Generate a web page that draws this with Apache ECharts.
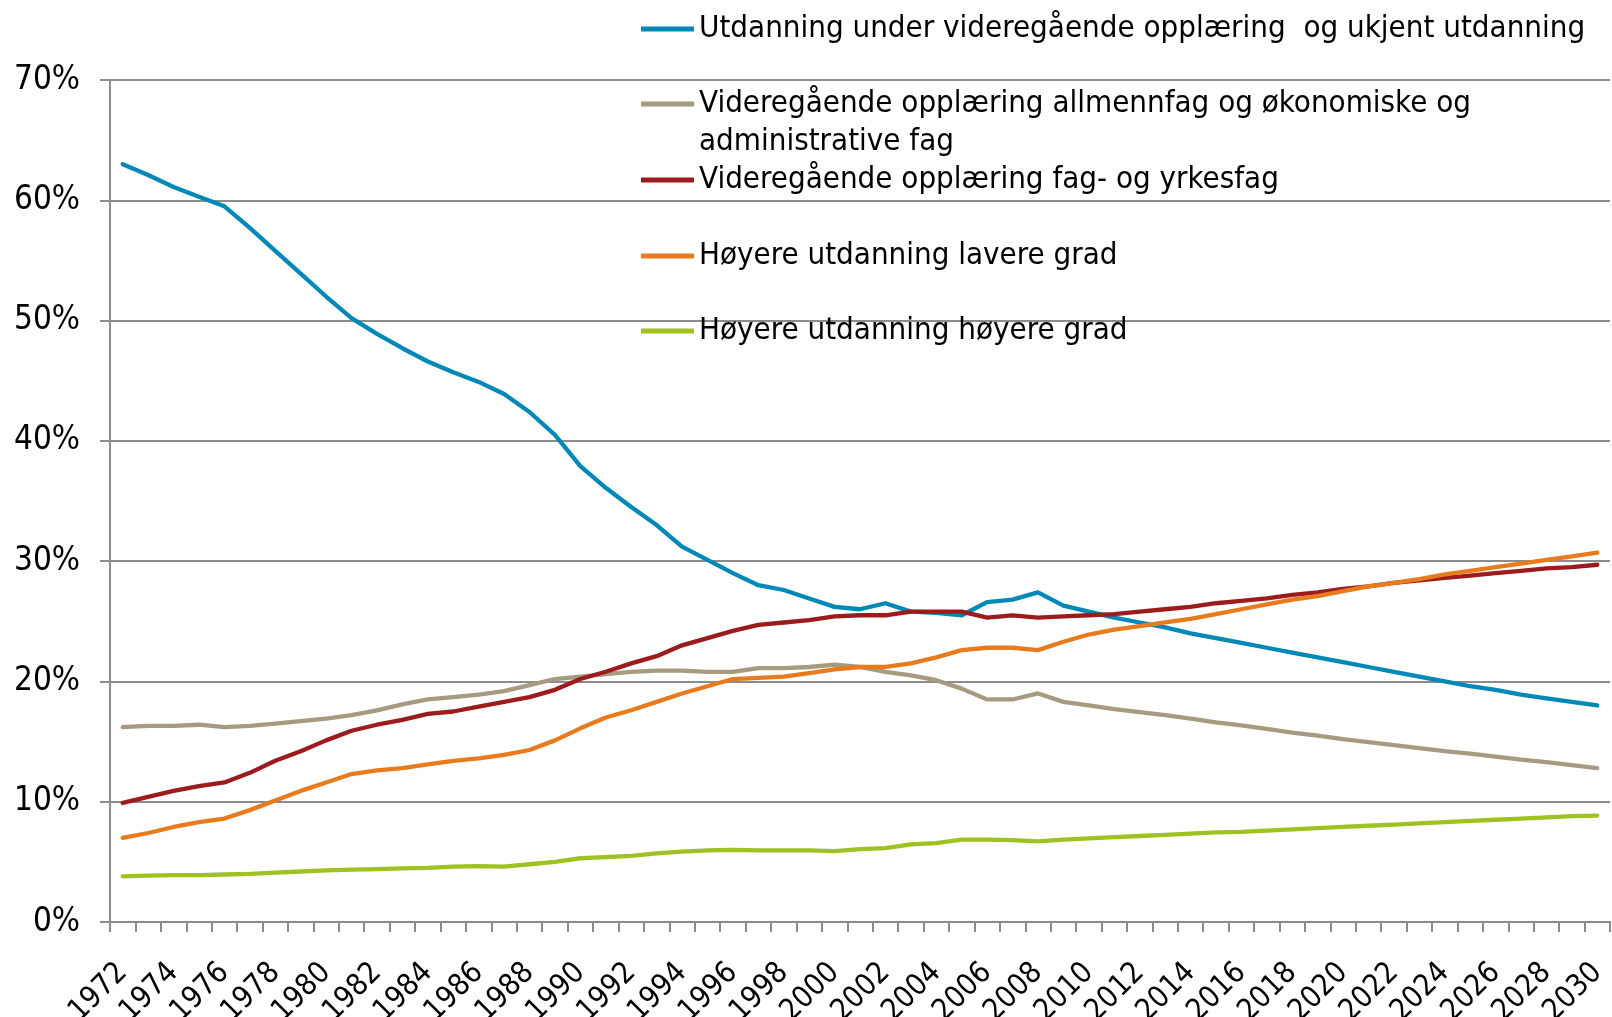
<!DOCTYPE html>
<html>
<head>
<meta charset="utf-8">
<script src="https://cdn.jsdelivr.net/npm/echarts@6/dist/echarts.min.js"></script>
<style>
  html, body { margin: 0; padding: 0; background: #fff; }
  #chart { width: 1612px; height: 1017px; }
</style>
</head>
<body>
<div id="chart"></div>
<script>
// kategorier (år)
const years = [
  '1972','1973','1974','1975','1976','1977','1978','1979','1980','1981',
  '1982','1983','1984','1985','1986','1987','1988','1989','1990','1991',
  '1992','1993','1994','1995','1996','1997','1998','1999','2000','2001',
  '2002','2003','2004','2005','2006','2007','2008','2009','2010','2011',
  '2012','2013','2014','2015','2016','2017','2018','2019','2020','2021',
  '2022','2023','2024','2025','2026','2027','2028','2029','2030'
];

const seriesNames = [
  'Utdanning under videregående opplæring  og ukjent utdanning',
  'Videregående opplæring allmennfag og økonomiske og administrative fag',
  'Videregående opplæring fag- og yrkesfag',
  'Høyere utdanning lavere grad',
  'Høyere utdanning høyere grad'
];
// slik teksten brytes i legenden
const legendLines = [
  ['Utdanning under videregående opplæring  og ukjent utdanning'],
  ['Videregående opplæring allmennfag og økonomiske og', 'administrative fag'],
  ['Videregående opplæring fag- og yrkesfag'],
  ['Høyere utdanning lavere grad'],
  ['Høyere utdanning høyere grad']
];

// andeler i prosent
const underVgs = [
  63.0, 62.1, 61.1, 60.3, 59.5, 57.7, 55.8, 53.9, 52.0, 50.2,
  48.9, 47.7, 46.6, 45.7, 44.9, 43.9, 42.4, 40.5, 37.9, 36.1,
  34.5, 33.0, 31.2, 30.1, 29.0, 28.0, 27.6, 26.9, 26.2, 26.0,
  26.5, 25.8, 25.7, 25.5, 26.6, 26.8, 27.4, 26.3, 25.8, 25.3,
  24.9, 24.5, 24.0, 23.6, 23.2, 22.8, 22.4, 22.0, 21.6, 21.2,
  20.8, 20.4, 20.0, 19.6, 19.3, 18.9, 18.6, 18.3, 18.0
];
const vgsAllmenn = [
  16.2, 16.3, 16.3, 16.4, 16.2, 16.3, 16.5, 16.7, 16.9, 17.2,
  17.6, 18.1, 18.5, 18.7, 18.9, 19.2, 19.7, 20.2, 20.4, 20.6,
  20.8, 20.9, 20.9, 20.8, 20.8, 21.1, 21.1, 21.2, 21.4, 21.2,
  20.8, 20.5, 20.1, 19.4, 18.5, 18.5, 19.0, 18.3, 18.0, 17.7,
  17.45, 17.2, 16.9, 16.6, 16.35, 16.05, 15.75, 15.5, 15.2, 14.95,
  14.7, 14.45, 14.2, 14.0, 13.75, 13.5, 13.3, 13.05, 12.8
];
const vgsYrkesfag = [
  9.9, 10.4, 10.9, 11.3, 11.6, 12.4, 13.4, 14.2, 15.1, 15.9,
  16.4, 16.8, 17.3, 17.5, 17.9, 18.3, 18.7, 19.3, 20.2, 20.8,
  21.5, 22.1, 23.0, 23.6, 24.2, 24.7, 24.9, 25.1, 25.4, 25.5,
  25.5, 25.8, 25.8, 25.8, 25.3, 25.5, 25.3, 25.4, 25.5, 25.6,
  25.8, 26.0, 26.2, 26.5, 26.7, 26.9, 27.2, 27.4, 27.7, 27.9,
  28.2, 28.4, 28.6, 28.8, 29.0, 29.2, 29.4, 29.5, 29.7
];
const hoyereLavere = [
  7.0, 7.4, 7.9, 8.3, 8.6, 9.3, 10.1, 10.9, 11.6, 12.3,
  12.6, 12.8, 13.1, 13.4, 13.6, 13.9, 14.3, 15.1, 16.1, 17.0,
  17.6, 18.3, 19.0, 19.6, 20.2, 20.3, 20.4, 20.7, 21.0, 21.2,
  21.2, 21.5, 22.0, 22.6, 22.8, 22.8, 22.6, 23.3, 23.9, 24.3,
  24.6, 24.9, 25.2, 25.6, 26.0, 26.4, 26.8, 27.1, 27.5, 27.9,
  28.2, 28.5, 28.9, 29.2, 29.5, 29.8, 30.1, 30.4, 30.7
];
const hoyereHoyere = [
  3.8, 3.85, 3.9, 3.9, 3.95, 4.0, 4.1, 4.2, 4.3, 4.35,
  4.4, 4.45, 4.5, 4.6, 4.65, 4.6, 4.8, 5.0, 5.3, 5.4,
  5.5, 5.7, 5.85, 5.95, 6.0, 5.95, 5.95, 5.95, 5.9, 6.05,
  6.15, 6.45, 6.55, 6.85, 6.85, 6.8, 6.7, 6.85, 6.95, 7.05,
  7.15, 7.25, 7.35, 7.45, 7.5, 7.6, 7.7, 7.8, 7.9, 8.0,
  8.1, 8.2, 8.3, 8.4, 8.5, 8.6, 8.7, 8.8, 8.85
];

const colors = ['#0088B7', '#A69A80', '#9C1B1C', '#E87B1E', '#9FC121'];
const allData = [underVgs, vgsAllmenn, vgsYrkesfag, hoyereLavere, hoyereHoyere];

const font = "'DejaVu Sans Condensed', 'DejaVu Sans', sans-serif";
const gridColor = '#8C8C8C';
const legendFontSize = 31;
const legendLineHeight = 38;

// én legend per serie, slik at avstandene blir som i originalen
const legendCenters = [29, 104, 180, 256, 331];
const legends = seriesNames.map((name, i) => ({
  data: [name],
  left: 641,
  top: legendCenters[i] - legendLineHeight / 2,
  padding: 0,
  icon: 'rect',
  itemWidth: 53,
  itemHeight: 5,
  itemGap: 0,
  selectedMode: false,
  formatter: () => legendLines[i][0],
  textStyle: {
    fontFamily: font,
    fontSize: legendFontSize,
    color: '#000',
    lineHeight: legendLineHeight
  }
}));

// andre linje av den lange legendteksten
const extraLegendText = [];
legendLines.forEach((lines, i) => {
  lines.slice(1).forEach((line, k) => {
    extraLegendText.push({
      type: 'text',
      left: 699,
      top: legendCenters[i] + (k + 1) * legendLineHeight - legendLineHeight / 2,
      style: {
        text: line,
        fontFamily: font,
        fontSize: legendFontSize,
        lineHeight: legendLineHeight,
        fill: '#000'
      }
    });
  });
});

const chart = echarts.init(document.getElementById('chart'));
chart.setOption({
  animation: false,
  color: colors,
  legend: legends,
  graphic: extraLegendText,
  grid: { left: 110, right: 2, top: 80, bottom: 95, outerBoundsMode: 'none', containLabel: false },
  xAxis: {
    type: 'category',
    data: years,
    boundaryGap: true,
    axisLine: { lineStyle: { color: gridColor, width: 2 } },
    axisTick: {
      show: true,
      interval: 0,
      alignWithLabel: false,
      length: 10,
      lineStyle: { color: gridColor, width: 2 }
    },
    axisLabel: {
      interval: 1,
      rotate: 45,
      margin: 46,
      fontFamily: font,
      fontSize: 30,
      color: '#000'
    }
  },
  yAxis: {
    type: 'value',
    min: 0,
    max: 70,
    interval: 10,
    axisLine: { show: true, lineStyle: { color: gridColor, width: 2 } },
    axisTick: { show: true, length: 10, lineStyle: { color: gridColor, width: 2 } },
    splitLine: { lineStyle: { color: gridColor, width: 2 } },
    axisLabel: {
      formatter: '{value}%',
      margin: 30,
      fontFamily: font,
      fontSize: 33,
      color: '#000'
    }
  },
  series: allData.map((d, i) => ({
    name: seriesNames[i],
    type: 'line',
    data: d,
    showSymbol: false,
    symbol: 'none',
    lineStyle: { width: 4.3, color: colors[i], cap: 'round', join: 'round' }
  }))
});
</script>
</body>
</html>
